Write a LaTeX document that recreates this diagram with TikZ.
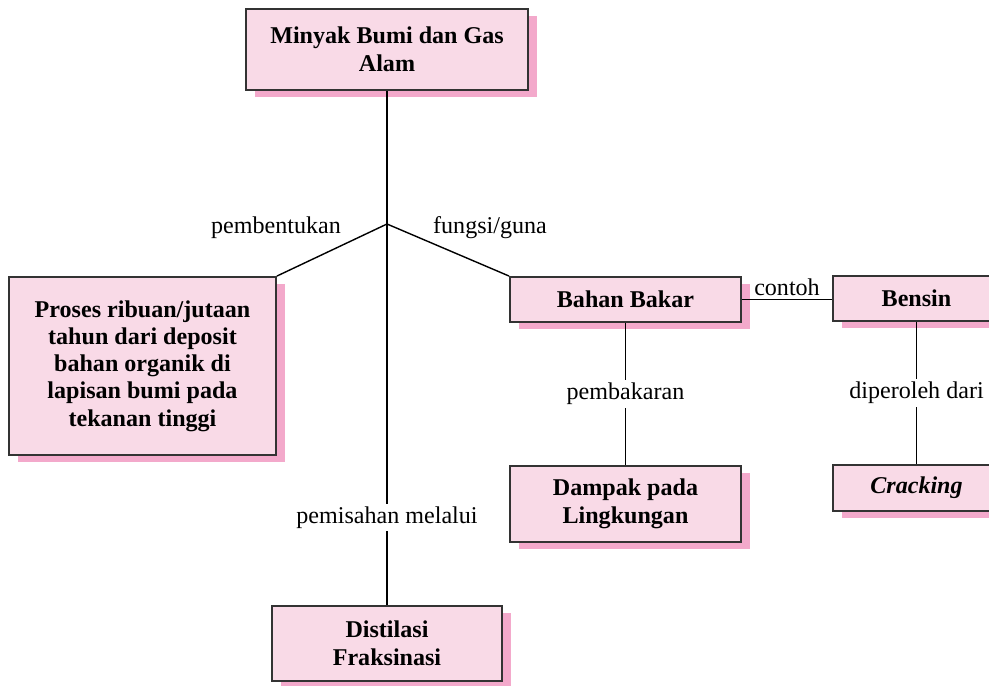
\documentclass[tikz,border=0pt]{standalone}
\usepackage{fontspec}
\setmainfont{Liberation Serif}
\usepackage{tikz}
\usetikzlibrary{shadows, positioning}

\definecolor{boxpink}{HTML}{F9DAE7}
\definecolor{shadowpink}{HTML}{F3A9CB}
\definecolor{edgegray}{HTML}{333333}

\begin{document}
\begin{tikzpicture}[
    font=\fontsize{13.7}{16.2}\selectfont,
    box/.style={draw=edgegray, line width=1.1pt, fill=boxpink, align=center,
      font=\fontsize{13.7}{16.2}\selectfont\bfseries, inner sep=0pt,
      drop shadow={shadow xshift=0.17cm, shadow yshift=-0.14cm, fill=shadowpink, opacity=1}},
    link/.style={draw=black, line width=0.8pt},
    lbl/.style={fill=white, inner sep=1.5pt}
  ]
  \useasboundingbox (0,0) rectangle (19.78,13.7);

  % Boxes
  \node[box, minimum width=5.64cm, minimum height=1.62cm] (minyak) at (7.74,12.71)
    {Minyak Bumi dan Gas\\Alam};
  \node[box, minimum width=5.34cm, minimum height=3.56cm,
    font=\fontsize{13.7}{15.5}\selectfont\bfseries] (proses) at (2.85,6.38)
    {Proses ribuan/jutaan\\tahun dari deposit\\bahan organik di\\lapisan bumi pada\\tekanan tinggi};
  \node[box, minimum width=4.62cm, minimum height=0.9cm] (bahan) at (12.51,7.71) {Bahan Bakar};
  \node[box, minimum width=3.34cm, minimum height=0.9cm] (bensin) at (18.33,7.73) {Bensin};
  \node[box, minimum width=4.62cm, minimum height=1.52cm] (dampak) at (12.51,3.62)
    {Dampak pada\\Lingkungan};
  \node[box, minimum width=3.34cm, minimum height=0.92cm] (cracking) at (18.33,3.94)
    {\textit{Cracking}};
  \node[box, minimum width=4.6cm, minimum height=1.5cm] (distilasi) at (7.74,0.83)
    {Distilasi\\Fraksinasi};

  % Branch point
  \coordinate (jn) at (7.74,9.22);

  % Connectors
  \draw[link] (minyak) -- (jn);
  \draw[link] (jn) -- (proses.north east);
  \draw[link] (jn) -- (bahan.north west);
  \draw[link] (jn) -- node[lbl, pos=0.77] {pemisahan melalui} (distilasi);
  \draw[link] (bahan) -- node[lbl] {pembakaran} (dampak);
  \draw[link] (bensin) -- node[lbl] {diperoleh dari} (cracking);
  \draw[link] (bahan.east) -- node[above, inner sep=1.5pt] {contoh} (bahan.east -| bensin.west);

  % Labels
  \node (pembentukan) at (5.52,9.14) {pembentukan};
  \node (fungsi) at (9.80,9.14) {fungsi/guna};
\end{tikzpicture}
\end{document}
